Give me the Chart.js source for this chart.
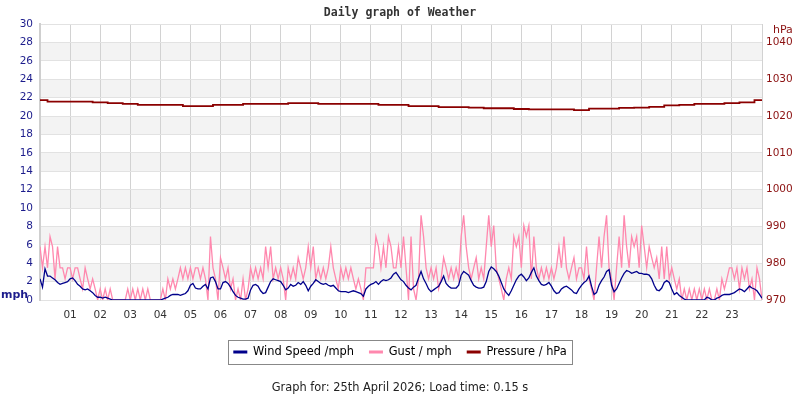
<!DOCTYPE html>
<html>
<head>
<meta charset="utf-8">
<script src="https://cdn.jsdelivr.net/npm/chart.js@4.4.0/dist/chart.umd.min.js"></script>
<style>
html,body{margin:0;padding:0;background:#fff;}
#wrap{width:800px;height:400px;}
</style>
</head>
<body>
<div id="wrap"><canvas id="c" width="800" height="400"></canvas></div>
<script>
// ---- data (5-minute samples for wind, 30-minute samples for pressure) ----
const hourLabels = ['01','02','03','04','05','06','07','08','09','10','11','12',
                    '13','14','15','16','17','18','19','20','21','22','23'];

const windSpeed = [
  2.3,1.4,3.4,2.6,2.6,2.4,2.2,1.9,1.7,1.8,1.9,2.0,
  2.3,2.4,2.1,1.7,1.5,1.2,1.1,1.2,1.0,0.8,0.5,0.3,
  0.3,0.2,0.3,0.2,0.1,0,0,0,0,0,0,0,
  0,0,0,0,0,0,0,0,0,0,0,0,
  0,0.1,0.2,0.3,0.5,0.6,0.6,0.6,0.5,0.6,0.7,1.0,
  1.6,1.8,1.3,1.2,1.2,1.5,1.7,1.2,2.4,2.5,2.0,1.2,
  1.2,1.9,2.0,1.8,1.4,0.9,0.5,0.3,0.2,0.1,0.1,0.2,
  1.1,1.6,1.7,1.5,1.0,0.7,0.8,1.4,2.0,2.3,2.2,2.1,
  2.0,1.6,1.1,1.3,1.7,1.5,1.6,1.9,1.7,2.0,1.6,1.0,
  1.5,1.8,2.2,2.0,1.8,1.7,1.8,1.6,1.5,1.6,1.3,1.0,
  0.9,0.9,0.9,0.8,0.9,1.0,0.9,0.8,0.7,0.4,1.2,1.5,
  1.7,1.8,2.0,1.7,2.0,2.2,2.1,2.2,2.4,2.8,3.0,2.6,
  2.2,2.0,1.6,1.3,1.1,1.4,1.6,2.4,3.1,2.3,1.8,1.2,
  0.9,1.1,1.3,1.5,2.0,2.6,1.8,1.5,1.3,1.3,1.3,1.6,
  2.7,3.1,2.9,2.7,2.1,1.6,1.4,1.3,1.3,1.4,2.0,3.1,
  3.6,3.4,3.1,2.6,1.9,1.2,0.8,0.5,1.0,1.6,2.2,2.6,
  2.8,2.5,2.1,2.4,3.0,3.5,2.6,2.1,1.7,1.6,1.7,1.9,
  1.5,1.0,0.7,0.8,1.2,1.4,1.5,1.3,1.1,0.8,0.7,1.2,
  1.6,1.9,2.1,2.6,1.5,0.6,0.8,1.6,2.1,2.5,3.1,3.3,
  1.6,0.9,1.2,1.8,2.4,2.9,3.2,3.1,2.9,3.0,3.1,2.9,
  2.9,2.8,2.8,2.7,2.3,1.6,1.1,1.0,1.3,1.9,2.1,1.9,
  1.2,0.6,0.8,0.5,0.3,0.1,0,0,0,0,0,0,
  0,0,0.3,0.2,0,0,0.2,0.3,0.5,0.6,0.6,0.6,
  0.7,0.8,1.0,1.2,1.1,0.9,1.2,1.5,1.3,1.2,1.0,0.6,
  0.2
];

const gust = [
  5.8,3.5,5.8,3.5,6.9,5.8,2.3,5.8,3.5,3.5,2.3,3.5,
  3.5,2.3,3.5,3.5,2.3,1.2,3.5,2.3,1.2,2.3,1.2,0,
  1.2,0,1.2,0,1.2,0,0,0,0,0,0,1.2,
  0,1.2,0,1.2,0,1.2,0,1.2,0,0,0,0,
  0,1.2,0,2.3,1.2,2.3,1.2,2.3,3.5,2.3,3.5,2.3,
  3.5,2.3,3.5,3.5,2.3,3.5,2.3,0,6.9,3.5,2.3,0,
  4.6,3.5,2.3,3.5,1.2,2.3,0,1.2,0,2.3,0,1.2,
  3.5,2.3,3.5,2.3,3.5,2.3,5.8,3.5,5.8,2.3,3.5,2.3,
  3.5,2.3,0,3.5,2.3,3.5,2.3,4.6,3.5,2.3,3.5,5.8,
  3.5,5.8,2.3,3.5,2.3,3.5,2.3,3.5,5.8,3.5,2.3,1.2,
  3.5,2.3,3.5,2.3,3.5,2.3,1.2,2.3,1.2,0,3.5,3.5,
  3.5,3.5,6.9,5.8,3.5,5.8,3.5,6.9,5.8,3.5,3.5,5.8,
  3.5,6.9,3.5,0,6.9,1.2,0,2.3,9.2,6.9,3.5,2.3,
  3.5,2.3,3.5,1.2,2.3,4.6,3.5,2.3,3.5,2.3,3.5,2.3,
  6.9,9.2,5.8,3.5,2.3,3.5,4.6,2.3,3.5,2.3,5.8,9.2,
  5.8,8.1,3.5,2.3,1.2,0,2.3,3.5,2.3,6.9,5.8,6.9,
  3.5,8.1,6.9,8.1,2.3,6.9,3.5,2.3,3.5,2.3,3.5,2.3,
  3.5,2.3,3.5,5.8,3.5,6.9,3.5,2.3,3.5,4.6,2.3,3.5,
  3.5,2.3,5.8,2.3,1.2,0,3.5,6.9,3.5,6.9,9.2,3.5,
  2.3,0,3.5,6.9,3.5,9.2,5.8,3.5,6.9,5.8,6.9,3.5,
  8.1,5.8,3.5,5.8,4.6,3.5,4.6,2.3,5.8,2.3,5.8,2.3,
  3.5,2.3,1.2,2.3,0,1.2,0,1.2,0,1.2,0,1.2,
  0,1.2,0,1.2,0,0,1.2,0,2.3,1.2,2.3,3.5,
  3.5,2.3,3.5,1.2,3.5,2.3,3.5,1.2,2.3,0,3.5,2.3,
  0
];

const pressure = [
  1024.3,1023.9,1023.9,1023.9,1023.7,1023.5,1023.3,1023.0,1023.0,1023.0,
  1022.7,1022.7,1023.0,1023.0,1023.3,1023.3,1023.3,1023.5,1023.5,1023.3,
  1023.3,1023.3,1023.3,1023.0,1023.0,1022.7,1022.7,1022.4,1022.4,1022.3,
  1022.1,1022.1,1021.9,1021.8,1021.8,1021.8,1021.6,1022.0,1022.0,1022.2,
  1022.3,1022.5,1022.9,1023.0,1023.3,1023.3,1023.5,1023.7,1024.3
];

const windSamplesPerHour = 12;
const pressureSamplesPerHour = 2;

const seriesLabels = ['Wind Speed /mph', 'Gust / mph', 'Pressure / hPa'];
const seriesColors = ['#00008b', '#ff88ae', '#8b0000'];

const toPoints = (arr, perHour) => arr.map((v, i) => ({x: i / perHour, y: v}));

// ---- plugins ----
const bandsPlugin = {
  id: 'bands',
  beforeDraw(chart) {
    const {ctx, chartArea, scales} = chart;
    const y = scales.y;
    ctx.save();
    ctx.fillStyle = '#f3f3f3';
    for (let v = 2; v < 30; v += 4) {
      const top = y.getPixelForValue(v + 2);
      const bot = y.getPixelForValue(v);
      ctx.fillRect(chartArea.left, top, chartArea.right - chartArea.left, bot - top);
    }
    ctx.restore();
  }
};

const extrasPlugin = {
  id: 'extras',
  afterDraw(chart) {
    const {ctx, scales, chartArea} = chart;
    ctx.save();
    ctx.textBaseline = 'middle';
    ctx.textAlign = 'left';
    ctx.font = 'bold 11px "DejaVu Sans"';
    ctx.fillStyle = '#1c1c8c';
    ctx.fillText('mph', 1, scales.y.getPixelForValue(0) - 4.5);
    ctx.font = '11px "DejaVu Sans"';
    ctx.fillStyle = '#8b1010';
    ctx.fillText('hPa', scales.y2.left + 11, chartArea.top + 6);
    const boxes = chart.legend && chart.legend.legendHitBoxes;
    if (boxes && boxes.length) {
      let l = Infinity, r = -Infinity, c = 0;
      boxes.forEach(b => { l = Math.min(l, b.left); r = Math.max(r, b.left + b.width); c = b.top + b.height / 2; });
      ctx.strokeStyle = '#888';
      ctx.lineWidth = 1;
      ctx.strokeRect(Math.round(l - 5) + 0.5, Math.round(c - 12) + 0.5, Math.round(r - l + 11), 24);
    }
    ctx.restore();
  }
};

new Chart(document.getElementById('c'), {
  type: 'line',
  data: {
    datasets: [
      {label: seriesLabels[0], data: toPoints(windSpeed, windSamplesPerHour), borderColor: seriesColors[0],
       backgroundColor: seriesColors[0], borderWidth: 1.3, yAxisID: 'y'},
      {label: seriesLabels[1], data: toPoints(gust, windSamplesPerHour), borderColor: seriesColors[1],
       backgroundColor: seriesColors[1], borderWidth: 1.3, yAxisID: 'y'},
      {label: seriesLabels[2], data: toPoints(pressure, pressureSamplesPerHour), borderColor: seriesColors[2],
       backgroundColor: seriesColors[2], borderWidth: 1.8, yAxisID: 'y2', stepped: 'middle'}
    ]
  },
  options: {
    responsive: false,
    animation: false,
    events: [],
    layout: {padding: {top: 0, bottom: 6.3, left: 0, right: 0}},
    elements: {point: {radius: 0}, line: {tension: 0}},
    scales: {
      x: {
        type: 'linear', min: 0, max: 24,
        afterFit: s => { s.height = 31.3; },
        ticks: {stepSize: 1, autoSkip: false, maxRotation: 0, padding: 9,
                color: '#333', font: {family: 'DejaVu Sans', size: 10.5},
                callback: v => hourLabels[v - 1] || ''},
        grid: {color: '#d2d2d2', lineWidth: 1, drawTicks: false},
        border: {display: false}
      },
      y: {
        position: 'left', min: 0, max: 30,
        afterFit: s => { s.width = 40; },
        ticks: {stepSize: 2, padding: 7, color: '#1c1c8c', font: {family: 'DejaVu Sans', size: 10.5}},
        grid: {color: '#e2e2e2', lineWidth: 1, drawTicks: false},
        border: {display: true, color: '#cfcfcf', width: 2}
      },
      y2: {
        position: 'right', min: 970, max: 1045,
        afterFit: s => { s.width = 38; },
        ticks: {stepSize: 10, includeBounds: false, padding: 4, color: '#8b1010',
                font: {family: 'DejaVu Sans', size: 10.5},
                callback: v => (v % 10 === 0 ? String(v) : '')},
        grid: {drawOnChartArea: false, drawTicks: false},
        border: {display: false}
      }
    },
    plugins: {
      title: {
        display: true, text: 'Daily graph of Weather', color: '#333',
        font: {family: 'DejaVu Sans Mono', size: 11.5, weight: 'bold', lineHeight: 1.2},
        padding: {top: 6, bottom: 4.2}
      },
      subtitle: {
        display: true, position: 'bottom', text: 'Graph for: 25th April 2026; Load time: 0.15 s',
        color: '#222', font: {family: 'DejaVu Sans', size: 11.4, lineHeight: 1},
        padding: {top: 14.6, bottom: 0}
      },
      legend: {
        position: 'bottom',
        labels: {
          usePointStyle: true, pointStyle: 'line', pointStyleWidth: 14, padding: 15,
          color: '#222', font: {family: 'DejaVu Sans', size: 11.4},
          generateLabels: chart => chart.data.datasets.map((d, i) => ({
            text: d.label, strokeStyle: d.borderColor, fillStyle: d.borderColor,
            lineWidth: 3, pointStyle: 'line', hidden: false, datasetIndex: i
          }))
        }
      },
      tooltip: {enabled: false}
    }
  },
  plugins: [bandsPlugin, extrasPlugin]
});
</script>
</body>
</html>
